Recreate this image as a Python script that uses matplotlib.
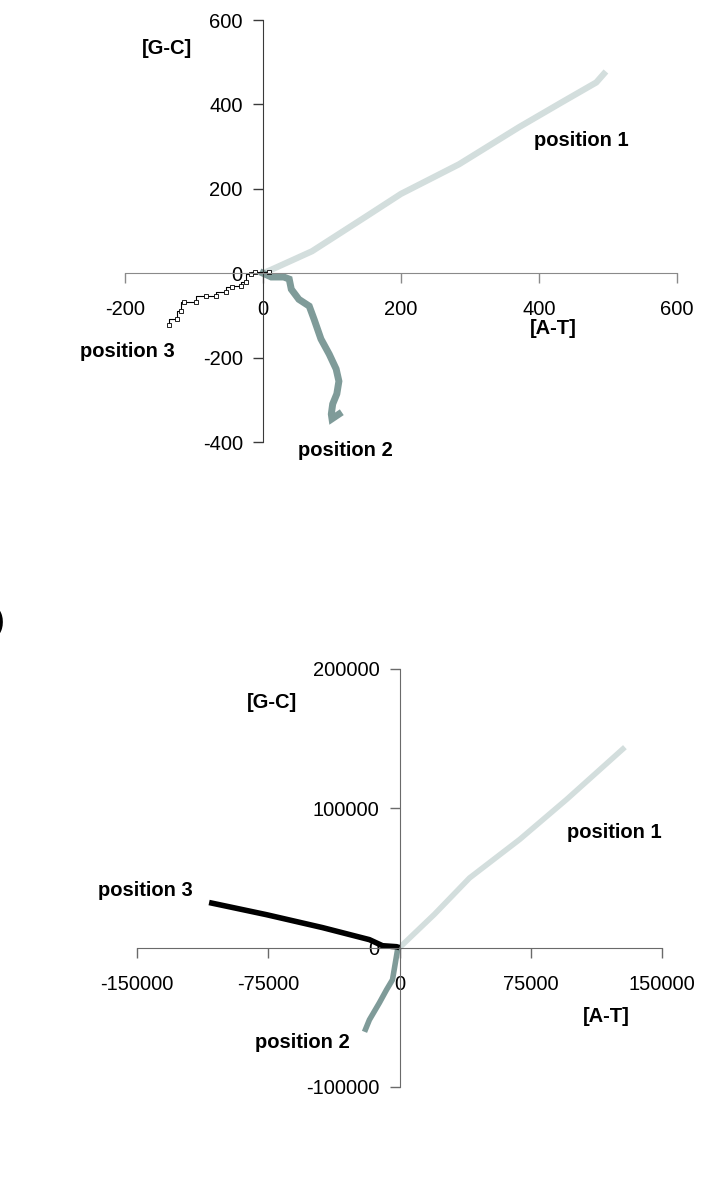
import numpy as np
import matplotlib.pyplot as plt

plt.rcParams['font.family'] = ['Liberation Sans', 'DejaVu Sans']

# top panel: cumulative skews, [A-T] vs [G-C]
top_p1_x = [0, 13, 71, 150, 200, 284, 371, 433, 483, 490, 497]
top_p1_y = [0, 9, 52, 135, 188, 258, 346, 405, 452, 465, 478]
top_p2_x = [0, 12, 30, 38, 41, 52, 67, 74, 84, 96, 106, 110, 107, 101, 99, 100, 110]
top_p2_y = [0, -9, -9, -14, -38, -62, -78, -109, -156, -192, -227, -256, -286, -310, -334, -345, -334]
top_p3_x = [9, -12, -17, -25, -32, -45, -54, -68, -83, -97, -114, -119, -125, -136]
top_p3_y = [2, 2, -2, -21, -31, -33, -45, -54, -54, -69, -69, -90, -109, -123]

# bottom panel
bot_p1_x = [0, 20000, 40000, 68700, 95600, 128800]
bot_p1_y = [0, 24000, 50000, 77700, 106500, 143900]
bot_p2_x = [0, -1100, -4000, -7400, -11500, -17200, -20000]
bot_p2_y = [0, -1400, -23000, -30200, -39600, -51800, -60400]
bot_p3_x = [0, -1700, -9700, -17200, -44000, -76100, -108800]
bot_p3_y = [0, 700, 1400, 5760, 14400, 23700, 32400]

top_xticks = [-200, 0, 200, 400, 600]
top_yticks = [-400, -200, 0, 200, 400, 600]
bot_xticks = [-150000, -75000, 0, 75000, 150000]
bot_yticks = [-100000, 0, 100000, 200000]

c1 = '#d3dedd'
c2 = '#7f9b99'
W, H = 705, 1183

fig = plt.figure(figsize=(W / 100, H / 100), dpi=100)


def px_axes(l, r, t, b):
    return fig.add_axes([l / W, 1 - b / H, (r - l) / W, (b - t) / H])


def style(ax, xlim, ylim, xt, yt, xcol, ycol):
    ax.set_xlim(*xlim)
    ax.set_ylim(*ylim)
    ax.set_xticks(xt)
    ax.set_yticks(yt)
    ax.set_xticklabels([str(v) for v in xt])
    ax.set_yticklabels([str(v) for v in yt])
    for s in ['top', 'right']:
        ax.spines[s].set_visible(False)
    ax.spines['left'].set_position(('data', 0))
    ax.spines['bottom'].set_position(('data', 0))
    ax.spines['bottom'].set_color(xcol)
    ax.spines['left'].set_color(ycol)
    ax.tick_params(axis='x', direction='out', length=7, width=1, color=xcol,
                   pad=12.5, labelsize=14.5)
    ax.tick_params(axis='y', direction='out', length=7, width=1, color=ycol,
                   pad=7.5, labelsize=14.5)
    ax.patch.set_alpha(0)


bold = dict(fontsize=14.5, fontweight='bold', ha='center', va='center')

# ---- top panel
ax1 = px_axes(125, 677, 20, 442)
style(ax1, (-200, 600), (-400, 600), top_xticks, top_yticks, '#8a8a8a', '#3a3a3a')
ax1.plot(top_p1_x, top_p1_y, color=c1, lw=4.5, solid_capstyle='butt')
ax1.plot(top_p2_x, top_p2_y, color=c2, lw=5, solid_joinstyle='miter')
ax1.plot(top_p3_x, top_p3_y, color='black', lw=0.8, drawstyle='steps-post',
         marker='s', ms=2.5, mfc='white', mec='black', mew=0.6)
fig.text(167 / W, 1 - 48 / H, '[G-C]', **bold)
fig.text(581 / W, 1 - 140 / H, 'position 1', **bold)
fig.text(553 / W, 1 - 329 / H, '[A-T]', **bold)
fig.text(127 / W, 1 - 351 / H, 'position 3', **bold)
fig.text(345 / W, 1 - 450 / H, 'position 2', **bold)

# ---- bottom panel
ax2 = px_axes(137, 662, 669, 1087)
style(ax2, (-150000, 150000), (-100000, 200000), bot_xticks, bot_yticks, '#6a6a6a', '#6a6a6a')
ax2.plot(bot_p1_x, bot_p1_y, color=c1, lw=4, solid_capstyle='butt')
ax2.plot(bot_p2_x, bot_p2_y, color=c2, lw=4, solid_capstyle='butt')
ax2.plot(bot_p3_x, bot_p3_y, color='black', lw=4, solid_capstyle='butt')
fig.text(272 / W, 1 - 702 / H, '[G-C]', **bold)
fig.text(614 / W, 1 - 833 / H, 'position 1', **bold)
fig.text(145 / W, 1 - 890 / H, 'position 3', **bold)
fig.text(606 / W, 1 - 1017 / H, '[A-T]', **bold)
fig.text(302 / W, 1 - 1043 / H, 'position 2', **bold)

# panel letter, cut at the left edge
fig.text(4 / W, 1 - 622 / H, ')', fontsize=20, fontweight='bold', ha='right', va='center')

fig.savefig('out.png', dpi=100)
